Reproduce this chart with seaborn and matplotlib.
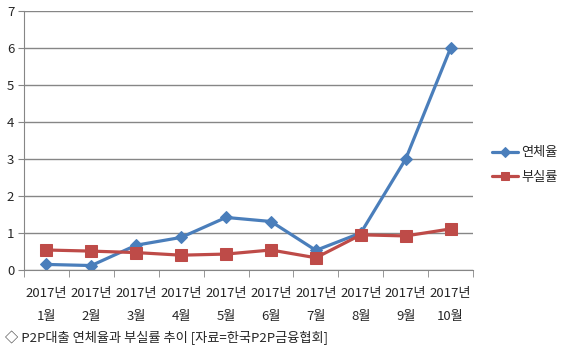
import numpy as np
import pandas as pd
import matplotlib
matplotlib.use('Agg')
import matplotlib.pyplot as plt
import seaborn as sns

months = ['1월', '2월', '3월', '4월', '5월', '6월', '7월', '8월', '9월', '10월']
year_label = '2017년'
delinquency = [0.15, 0.12, 0.67, 0.88, 1.42, 1.31, 0.53, 1.0, 3.0, 6.0]   # 연체율
bad_loans = [0.54, 0.51, 0.47, 0.40, 0.43, 0.54, 0.33, 0.95, 0.92, 1.11]  # 부실률
caption = '◇ P2P대출 연체율과 부실률 추이 [자료=한국P2P금융협회]'

sns.set_style('white')
plt.rcParams['font.family'] = ['Noto Sans CJK KR', 'DejaVu Sans']

fig = plt.figure(figsize=(5.7, 3.52), dpi=100)
ax = fig.add_axes([0.042, 0.233, 0.788, 0.736])

x = np.arange(len(months))
sns.lineplot(x=x, y=delinquency, ax=ax, color='#4A7EBB', linewidth=2.3,
             marker='D', markersize=6, markeredgecolor='#4A7EBB', label='연체율')
sns.lineplot(x=x, y=bad_loans, ax=ax, color='#BE4B48', linewidth=2.3,
             marker='s', markersize=8, markeredgecolor='#BE4B48', label='부실률')

ax.set_xlim(-0.5, len(months) - 0.5)
ax.set_ylim(0, 7)
ax.set_yticks(range(0, 8))
ax.yaxis.grid(True, color='#868686', linewidth=1)
ax.xaxis.grid(False)

ax.set_xticks(x)
ax.set_xticklabels([f'{year_label}\n{m}' for m in months], fontsize=9.5, linespacing=2.0)
ax.set_xticks(np.arange(-0.5, len(months)), minor=True)
ax.tick_params(axis='x', which='major', length=0, pad=12)
ax.tick_params(axis='x', which='minor', length=5, color='#868686', direction='out', bottom=True)
ax.tick_params(axis='y', length=4, color='#868686', direction='out', left=True, labelsize=9.5, pad=3)

for side in ['top', 'right']:
    ax.spines[side].set_visible(False)
for side in ['left', 'bottom']:
    ax.spines[side].set_color('#868686')

ax.legend(loc='center left', bbox_to_anchor=(1.03, 0.405), frameon=False, borderaxespad=0,
          fontsize=9.5, handlelength=2.0, labelspacing=0.9, handletextpad=0.25,
          markerscale=0.8)

fig.text(0.008, 0.04, caption, fontsize=9.5, ha='left', va='center')

fig.savefig('out.png', dpi=100)
